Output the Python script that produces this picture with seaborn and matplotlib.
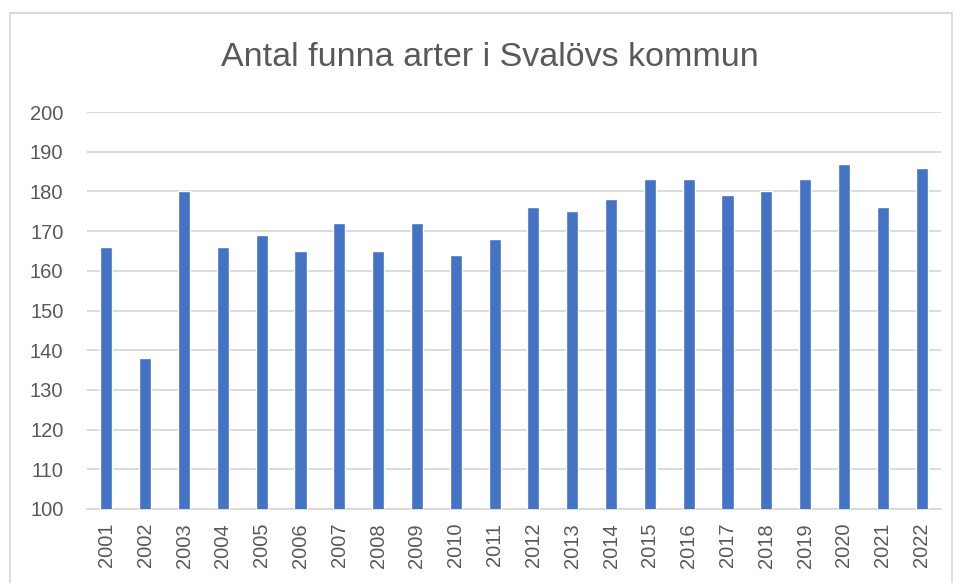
import matplotlib
matplotlib.use("Agg")
import matplotlib.pyplot as plt
import seaborn as sns
import pandas as pd
from matplotlib.lines import Line2D

years = [str(y) for y in range(2001, 2023)]
arter = [166, 138, 180, 166, 169, 165, 172, 165, 172, 164, 168,
         176, 175, 178, 183, 183, 179, 180, 183, 187, 176, 186]
yticks = list(range(100, 201, 10))

df = pd.DataFrame({"year": years, "arter": arter})

sns.set_style("white")
plt.rcParams['font.family'] = ['Liberation Sans', 'DejaVu Sans']

fig = plt.figure(figsize=(9.61, 5.83), dpi=100)
W, H = 961, 583
ax = fig.add_axes([87 / W, 1 - 509 / H, (941 - 87) / W, (509 - 112) / H])

sns.barplot(data=df, x="year", y="arter", color="#4472C4", width=0.31,
            saturation=1, ax=ax, zorder=3)

ax.set_ylim(100, 200)
ax.set_yticks(yticks)
ax.set_xlim(-0.5, len(years) - 0.5)
ax.grid(axis="y", color="#d9d9d9", linewidth=1.3, zorder=0)
for s in ["left", "right", "top"]:
    ax.spines[s].set_visible(False)
ax.spines["bottom"].set_color("#d9d9d9")
ax.spines["bottom"].set_linewidth(1.3)
ax.tick_params(axis="y", length=0, pad=17, labelsize=14.5, labelcolor="#595959")
ax.tick_params(axis="x", length=0, pad=10, labelsize=14.5, labelcolor="#595959",
               labelrotation=90)
ax.set_xlabel("")
ax.set_ylabel("")

fig.text(490 / W, 1 - 57 / H, "Antal funna arter i Svalövs kommun",
         ha="center", va="center", fontsize=24.5, color="#595959")

# chart frame
fig.add_artist(Line2D([10 / W, 10 / W], [0, 1 - 13 / H], color="#d9d9d9", lw=1.3))
fig.add_artist(Line2D([10 / W, 952 / W], [1 - 13 / H, 1 - 13 / H], color="#d9d9d9", lw=1.3))
fig.add_artist(Line2D([952 / W, 952 / W], [0, 1 - 13 / H], color="#d9d9d9", lw=1.3))

fig.savefig("out.png", dpi=100)
